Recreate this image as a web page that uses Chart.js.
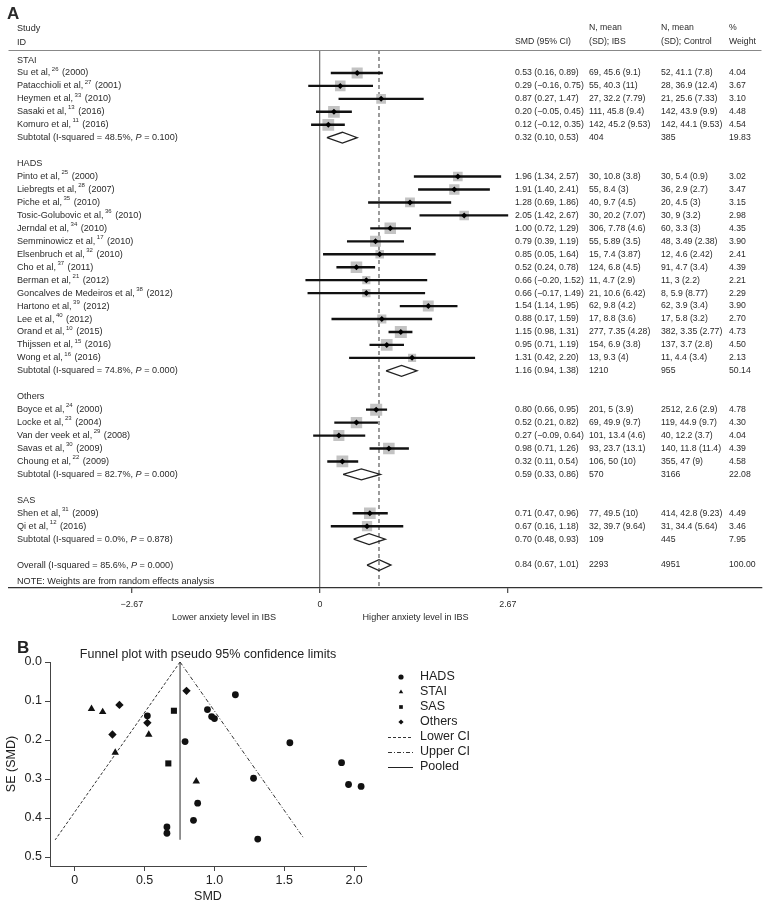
<!DOCTYPE html>
<html>
<head>
<meta charset="utf-8">
<script src="https://cdn.jsdelivr.net/npm/chart.js@4.4.1/dist/chart.umd.min.js"></script>
<style>
  body { margin: 0; background: #fff; }
  #wrap { position: relative; width: 770px; height: 910px; }
  .box { position: absolute; left: 0; width: 770px; }
</style>
</head>
<body>
<div id="wrap">
  <div class="box" style="top:0;height:628px"><canvas id="forestChart"></canvas></div>
  <div class="box" style="top:628px;height:282px"><canvas id="funnelChart"></canvas></div>
</div>
<script>
// ---------- panel A: forest plot data ----------
const groupNames = ['STAI', 'HADS', 'Others', 'SAS'];
const studyGroup = [0, 0, 0, 0, 0,
  1, 1, 1, 1, 1, 1, 1, 1, 1, 1, 1, 1, 1, 1, 1,
  2, 2, 2, 2, 2,
  3, 3];
const studyAuthor = ['Su', 'Patacchioli', 'Heymen', 'Sasaki', 'Komuro',
  'Pinto', 'Liebregts', 'Piche', 'Tosic-Golubovic', 'Jerndal', 'Semminowicz', 'Elsenbruch', 'Cho',
  'Berman', 'Goncalves de Medeiros', 'Hartono', 'Lee', 'Orand', 'Thijssen', 'Wong',
  'Boyce', 'Locke', 'Van der veek', 'Savas', 'Choung',
  'Shen', 'Qi'];
const studyRef = ['26', '27', '33', '13', '11',
  '25', '28', '35', '36', '34', '17', '32', '37', '21', '38', '39', '40', '10', '15', '16',
  '24', '23', '29', '30', '22',
  '31', '12'];
const studyYear = ['2000', '2001', '2010', '2016', '2016',
  '2000', '2007', '2010', '2010', '2010', '2010', '2010', '2011', '2012', '2012', '2012', '2012', '2015', '2016', '2016',
  '2000', '2004', '2008', '2009', '2009',
  '2009', '2016'];
const studySmd = [0.53, 0.29, 0.87, 0.20, 0.12,
  1.96, 1.91, 1.28, 2.05, 1.00, 0.79, 0.85, 0.52, 0.66, 0.66, 1.54, 0.88, 1.15, 0.95, 1.31,
  0.80, 0.52, 0.27, 0.98, 0.32,
  0.71, 0.67];
const studyLow = [0.16, -0.16, 0.27, -0.05, -0.12,
  1.34, 1.40, 0.69, 1.42, 0.72, 0.39, 0.05, 0.24, -0.20, -0.17, 1.14, 0.17, 0.98, 0.71, 0.42,
  0.66, 0.21, -0.09, 0.71, 0.11,
  0.47, 0.16];
const studyHigh = [0.89, 0.75, 1.47, 0.45, 0.35,
  2.57, 2.41, 1.86, 2.67, 1.29, 1.19, 1.64, 0.78, 1.52, 1.49, 1.95, 1.59, 1.31, 1.19, 2.20,
  0.95, 0.82, 0.64, 1.26, 0.54,
  0.96, 1.18];
const studyIbs = ['69, 45.6 (9.1)', '55, 40.3 (11)', '27, 32.2 (7.79)', '111, 45.8 (9.4)', '142, 45.2 (9.53)',
  '30, 10.8 (3.8)', '55, 8.4 (3)', '40, 9.7 (4.5)', '30, 20.2 (7.07)', '306, 7.78 (4.6)', '55, 5.89 (3.5)',
  '15, 7.4 (3.87)', '124, 6.8 (4.5)', '11, 4.7 (2.9)', '21, 10.6 (6.42)', '62, 9.8 (4.2)', '17, 8.8 (3.6)',
  '277, 7.35 (4.28)', '154, 6.9 (3.8)', '13, 9.3 (4)',
  '201, 5 (3.9)', '69, 49.9 (9.7)', '101, 13.4 (4.6)', '93, 23.7 (13.1)', '106, 50 (10)',
  '77, 49.5 (10)', '32, 39.7 (9.64)'];
const studyControl = ['52, 41.1 (7.8)', '28, 36.9 (12.4)', '21, 25.6 (7.33)', '142, 43.9 (9.9)', '142, 44.1 (9.53)',
  '30, 5.4 (0.9)', '36, 2.9 (2.7)', '20, 4.5 (3)', '30, 9 (3.2)', '60, 3.3 (3)', '48, 3.49 (2.38)',
  '12, 4.6 (2.42)', '91, 4.7 (3.4)', '11, 3 (2.2)', '8, 5.9 (8.77)', '62, 3.9 (3.4)', '17, 5.8 (3.2)',
  '382, 3.35 (2.77)', '137, 3.7 (2.8)', '11, 4.4 (3.4)',
  '2512, 2.6 (2.9)', '119, 44.9 (9.7)', '40, 12.2 (3.7)', '140, 11.8 (11.4)', '355, 47 (9)',
  '414, 42.8 (9.23)', '31, 34.4 (5.64)'];
const studyWeight = [4.04, 3.67, 3.10, 4.48, 4.54,
  3.02, 3.47, 3.15, 2.98, 4.35, 3.90, 2.41, 4.39, 2.21, 2.29, 3.90, 2.70, 4.73, 4.50, 2.13,
  4.78, 4.30, 4.04, 4.39, 4.58,
  4.49, 3.46];

const subI2 = ['48.5%', '74.8%', '82.7%', '0.0%'];
const subP = ['0.100', '0.000', '0.000', '0.878'];
const subSmd = [0.32, 1.16, 0.59, 0.70];
const subLow = [0.10, 0.94, 0.33, 0.48];
const subHigh = [0.53, 1.38, 0.86, 0.93];
const subIbs = ['404', '1210', '570', '109'];
const subControl = ['385', '955', '3166', '445'];
const subWeight = [19.83, 50.14, 22.08, 7.95];

const overallI2 = '85.6%';
const overallP = '0.000';
const overallSmd = 0.84;
const overallLow = 0.67;
const overallHigh = 1.01;
const overallIbs = '2293';
const overallControl = '4951';
const overallWeight = 100.00;

const forestTicks = [-2.67, 0, 2.67];

// ---------- panel B: funnel plot data ----------
const hadsSmd = [1.96, 1.91, 1.28, 2.05, 1.00, 0.79, 0.85, 0.52, 0.66, 0.66, 1.54, 0.88, 1.15, 0.95, 1.31, 0.98];
const hadsSe = [0.314, 0.258, 0.298, 0.319, 0.145, 0.204, 0.406, 0.138, 0.439, 0.423, 0.207, 0.362, 0.084, 0.122, 0.454, 0.140];
const staiSmd = [0.53, 0.29, 0.87, 0.20, 0.12];
const staiSe = [0.186, 0.232, 0.306, 0.128, 0.120];
const sasSmd = [0.71, 0.67];
const sasSe = [0.125, 0.260];
const othersSmd = [0.80, 0.52, 0.27, 0.32];
const othersSe = [0.074, 0.156, 0.186, 0.110];
const lowerCiSmd = [0.754, -0.14];
const lowerCiSe = [0, 0.456];
const upperCiSmd = [0.754, 1.64];
const upperCiSe = [0, 0.452];
const pooledSmd = [0.754, 0.754];
const pooledSe = [0, 0.456];
const funnelXTicks = [0, 0.5, 1.0, 1.5, 2.0];
const funnelYTicks = [0, 0.1, 0.2, 0.3, 0.4, 0.5];

// ---------- build forest rows ----------
const rows = [];
let r = 0;
groupNames.forEach(function (g, gi) {
  rows.push({ kind: 'head', y: r++, gi: gi });
  studyAuthor.forEach(function (a, i) {
    if (studyGroup[i] === gi) rows.push({ kind: 'study', y: r++, i: i });
  });
  rows.push({ kind: 'sub', y: r++, gi: gi });
  r++;
});
const overallRow = r;
const noteRow = r + 1.25;
const rowTop = -0.772, rowBottom = 40.77;

const studyRows = rows.filter(x => x.kind === 'study');
const subRows = rows.filter(x => x.kind === 'sub');

Chart.defaults.font.family = '"Liberation Sans", Arial, sans-serif';
Chart.defaults.color = '#222';
Chart.defaults.animation = false;

function fmt(v) {
  const s = Math.abs(v).toFixed(2);
  return v < 0 ? '\u2212' + s : s;
}
function ciText(e, lo, hi) {
  return e.toFixed(2) + ' (' + fmt(lo) + ', ' + fmt(hi) + ')';
}

function diamond(lo, e, hi, y) {
  return [{ x: lo, y: y }, { x: e, y: y - 0.42 }, { x: hi, y: y }, { x: e, y: y + 0.42 }, { x: lo, y: y }];
}

const forestDatasets = [
  {
    type: 'scatter',
    data: [{ x: overallSmd, y: rowTop }, { x: overallSmd, y: rowBottom }],
    showLine: true, borderColor: '#666', borderWidth: 1.3, borderDash: [4, 3],
    pointRadius: 0, order: 6
  },
  {
    type: 'scatter',
    data: studyRows.map(s => ({ x: studySmd[s.i], y: s.y })),
    pointStyle: 'rect',
    pointRadius: studyRows.map(s => 3.9 * Math.sqrt(studyWeight[s.i])),
    backgroundColor: '#c3c3c3', borderWidth: 0, order: 5
  },
  {
    type: 'bar', indexAxis: 'y',
    data: studyRows.map(s => ({ y: s.y, x: [studyLow[s.i], studyHigh[s.i]] })),
    backgroundColor: '#111', barThickness: 1.7, grouped: false, order: 4
  },
  {
    type: 'scatter',
    data: studyRows.map(s => ({ x: studySmd[s.i], y: s.y })),
    pointStyle: 'rectRot', pointRadius: 3,
    backgroundColor: '#000', borderWidth: 0, order: 2
  }
];
subRows.forEach(function (s) {
  forestDatasets.push({
    type: 'scatter',
    data: diamond(subLow[s.gi], subSmd[s.gi], subHigh[s.gi], s.y),
    showLine: true, borderColor: '#222', borderWidth: 1.3, pointRadius: 0, order: 3
  });
});
forestDatasets.push({
  type: 'scatter',
  data: diamond(overallLow, overallSmd, overallHigh, overallRow),
  showLine: true, borderColor: '#222', borderWidth: 1.3, pointRadius: 0, order: 3
});

const FONT = '9.1px "Liberation Sans", Arial, sans-serif';
const FONT_NUM = '8.7px "Liberation Sans", Arial, sans-serif';
const FONT_SUP = '6px "Liberation Sans", Arial, sans-serif';
const FONT_IT = 'italic 9.1px "Liberation Sans", Arial, sans-serif';

const forestText = {
  id: 'forestText',
  afterDraw(chart) {
    const { ctx, chartArea, scales } = chart;
    const ys = scales.y, xs = scales.x;
    ctx.save();
    // header rule
    ctx.strokeStyle = '#888';
    ctx.lineWidth = 1;
    ctx.beginPath();
    ctx.moveTo(chartArea.left, chartArea.top + 0.5);
    ctx.lineTo(chartArea.right, chartArea.top + 0.5);
    ctx.stroke();

    ctx.fillStyle = '#2a2a2a';
    ctx.textBaseline = 'middle';
    ctx.textAlign = 'left';
    ctx.font = 'bold 17px "Liberation Sans", Arial, sans-serif';
    ctx.fillText('A', 7, 14);

    const colName = 17, colSmd = 515, colIbs = 589, colCtl = 661, colW = 729;
    ctx.font = FONT;
    ctx.fillText('Study', colName, 28);
    ctx.fillText('ID', colName, 42);
    ctx.font = FONT_NUM;
    ctx.fillText('SMD (95% CI)', colSmd, 42);
    ctx.fillText('N, mean', colIbs, 28);
    ctx.fillText('(SD); IBS', colIbs, 42);
    ctx.fillText('N, mean', colCtl, 28);
    ctx.fillText('(SD); Control', colCtl, 42);
    ctx.fillText('%', colW, 28);
    ctx.fillText('Weight', colW, 42);

    function het(label, i2, p, y) {
      let x = colName;
      const a = label + ' (I-squared = ' + i2 + ', ';
      ctx.font = FONT; ctx.fillText(a, x, y); x += ctx.measureText(a).width;
      ctx.font = FONT_IT; ctx.fillText('P', x, y); x += ctx.measureText('P').width;
      ctx.font = FONT; ctx.fillText(' = ' + p + ')', x, y);
    }
    function cols(ci, ibs, ctl, w, y) {
      ctx.font = FONT_NUM;
      ctx.fillText(ci, colSmd, y);
      ctx.fillText(ibs, colIbs, y);
      ctx.fillText(ctl, colCtl, y);
      ctx.fillText(w, colW, y);
    }

    rows.forEach(function (row) {
      const y = ys.getPixelForValue(row.y);
      ctx.font = FONT;
      if (row.kind === 'head') {
        ctx.fillText(groupNames[row.gi], colName, y);
      } else if (row.kind === 'study') {
        const i = row.i;
        let x = colName;
        const a = studyAuthor[i] + ' et al,';
        ctx.fillText(a, x, y); x += ctx.measureText(a).width + 1.5;
        ctx.font = FONT_SUP; ctx.fillText(studyRef[i], x, y - 4); x += ctx.measureText(studyRef[i]).width + 1;
        ctx.font = FONT; ctx.fillText(' (' + studyYear[i] + ')', x, y);
        cols(ciText(studySmd[i], studyLow[i], studyHigh[i]), studyIbs[i], studyControl[i], studyWeight[i].toFixed(2), y);
      } else {
        const g = row.gi;
        het('Subtotal', subI2[g], subP[g], y);
        cols(ciText(subSmd[g], subLow[g], subHigh[g]), subIbs[g], subControl[g], subWeight[g].toFixed(2), y);
      }
    });
    const yo = ys.getPixelForValue(overallRow);
    het('Overall', overallI2, overallP, yo);
    cols(ciText(overallSmd, overallLow, overallHigh), overallIbs, overallControl, overallWeight.toFixed(2), yo);
    ctx.font = FONT;
    ctx.fillText('NOTE: Weights are from random effects analysis', colName, ys.getPixelForValue(noteRow));

    ctx.textAlign = 'center';
    ctx.fillText('Lower anxiety level in IBS', xs.getPixelForValue(-1.36), 617);
    ctx.fillText('Higher anxiety level in IBS', xs.getPixelForValue(1.36), 617);
    ctx.restore();
  }
};

new Chart(document.getElementById('forestChart'), {
  type: 'scatter',
  data: { datasets: forestDatasets },
  options: {
    responsive: true,
    maintainAspectRatio: false,
    events: [],
    layout: { padding: { left: 6, right: 7, top: 50, bottom: 0 } },
    plugins: { legend: { display: false }, tooltip: { enabled: false } },
    scales: {
      x: {
        type: 'linear', min: -4.4215, max: 6.272,
        afterBuildTicks: s => { s.ticks = forestTicks.map(v => ({ value: v })); },
        afterFit: s => { s.height = 40; },
        ticks: { font: { size: 8.9 }, color: '#2a2a2a', padding: 6, callback: v => v === 0 ? '0' : fmt(v) },
        grid: {
          color: c => (c.tick && c.tick.value === 0) ? '#7a7a7a' : 'rgba(0,0,0,0)',
          tickColor: '#555', tickLength: 5, lineWidth: 1.3
        },
        border: { display: true, color: '#333', width: 1.2 }
      },
      y: {
        type: 'linear', display: false, reverse: true, offset: false,
        min: rowTop, max: rowBottom,
        grid: { offset: false }
      }
    }
  },
  plugins: [forestText]
});

// ---------- funnel plot ----------
function pts(xs, ys) { return xs.map((v, i) => ({ x: v, y: ys[i] })); }

const funnelDatasets = [
  { label: 'HADS', data: pts(hadsSmd, hadsSe), pointStyle: 'circle', pointRadius: 3.4, backgroundColor: '#111', borderWidth: 0 },
  { label: 'STAI', data: pts(staiSmd, staiSe), pointStyle: 'triangle', pointRadius: 4.3, backgroundColor: '#111', borderWidth: 0 },
  { label: 'SAS', data: pts(sasSmd, sasSe), pointStyle: 'rect', pointRadius: 4.3, backgroundColor: '#111', borderWidth: 0 },
  { label: 'Others', data: pts(othersSmd, othersSe), pointStyle: 'rectRot', pointRadius: 4.2, backgroundColor: '#111', borderWidth: 0 },
  { label: 'Lower CI', data: pts(lowerCiSmd, lowerCiSe), showLine: true, borderColor: '#333', borderWidth: 1, borderDash: [3, 2], pointRadius: 0 },
  { label: 'Upper CI', data: pts(upperCiSmd, upperCiSe), showLine: true, borderColor: '#333', borderWidth: 1, borderDash: [4, 2, 1, 2], pointRadius: 0 },
  { label: 'Pooled', data: pts(pooledSmd, pooledSe), showLine: true, borderColor: '#7a7a7a', borderWidth: 1.6, pointRadius: 0 }
];

const funnelExtras = {
  id: 'funnelExtras',
  afterDraw(chart) {
    const { ctx, chartArea } = chart;
    ctx.save();
    ctx.fillStyle = '#222';
    ctx.textBaseline = 'middle';
    ctx.font = 'bold 17px "Liberation Sans", Arial, sans-serif';
    ctx.textAlign = 'left';
    ctx.fillText('B', 17, 20);
    ctx.font = '12.5px "Liberation Sans", Arial, sans-serif';
    ctx.textAlign = 'center';
    ctx.fillText('Funnel plot with pseudo 95% confidence limits', (chartArea.left + chartArea.right) / 2, 27);
    // legend
    ctx.textAlign = 'left';
    chart.data.datasets.forEach(function (ds, i) {
      const y = 49 + i * 15;
      if (ds.showLine) {
        ctx.save();
        ctx.strokeStyle = ds.borderColor === '#7a7a7a' ? '#222' : ds.borderColor;
        ctx.lineWidth = 1;
        ctx.setLineDash(ds.borderDash || []);
        ctx.beginPath();
        ctx.moveTo(388, y + 0.5);
        ctx.lineTo(413, y + 0.5);
        ctx.stroke();
        ctx.restore();
      } else {
        ctx.fillStyle = '#111';
        Chart.helpers.drawPoint(ctx, { pointStyle: ds.pointStyle, radius: 2.6, rotation: 0, borderWidth: 0 }, 401, y);
      }
      ctx.fillStyle = '#222';
      ctx.fillText(ds.label, 420, y);
    });
    ctx.restore();
  }
};

new Chart(document.getElementById('funnelChart'), {
  type: 'scatter',
  data: { datasets: funnelDatasets },
  options: {
    responsive: true,
    maintainAspectRatio: false,
    events: [],
    layout: { padding: { left: 0, right: 404, top: 34, bottom: 0 } },
    plugins: { legend: { display: false }, tooltip: { enabled: false } },
    scales: {
      x: {
        type: 'linear', min: -0.177, max: 2.085,
        afterBuildTicks: s => { s.ticks = funnelXTicks.map(v => ({ value: v })); },
        afterFit: s => { s.height = 44; },
        ticks: { font: { size: 12.5 }, color: '#222', padding: 2, callback: v => v === 0 ? '0' : v.toFixed(1) },
        grid: { drawOnChartArea: false, color: '#444', tickLength: 5 },
        border: { display: true, color: '#444', width: 1 },
        title: { display: true, text: 'SMD', font: { size: 12.5 }, color: '#222', padding: { top: 2, bottom: 6 } }
      },
      y: {
        type: 'linear', min: 0, max: 0.523, reverse: true,
        afterBuildTicks: s => { s.ticks = funnelYTicks.map(v => ({ value: v })); },
        afterFit: s => { s.width = 50; },
        ticks: { font: { size: 12.5 }, color: '#222', padding: 3, callback: v => v.toFixed(1) },
        grid: { drawOnChartArea: false, color: '#444', tickLength: 5 },
        border: { display: true, color: '#444', width: 1 },
        title: { display: true, text: 'SE (SMD)', font: { size: 12.5 }, color: '#222', padding: { top: 4, bottom: 4 } }
      }
    }
  },
  plugins: [funnelExtras]
});
</script>
</body>
</html>
